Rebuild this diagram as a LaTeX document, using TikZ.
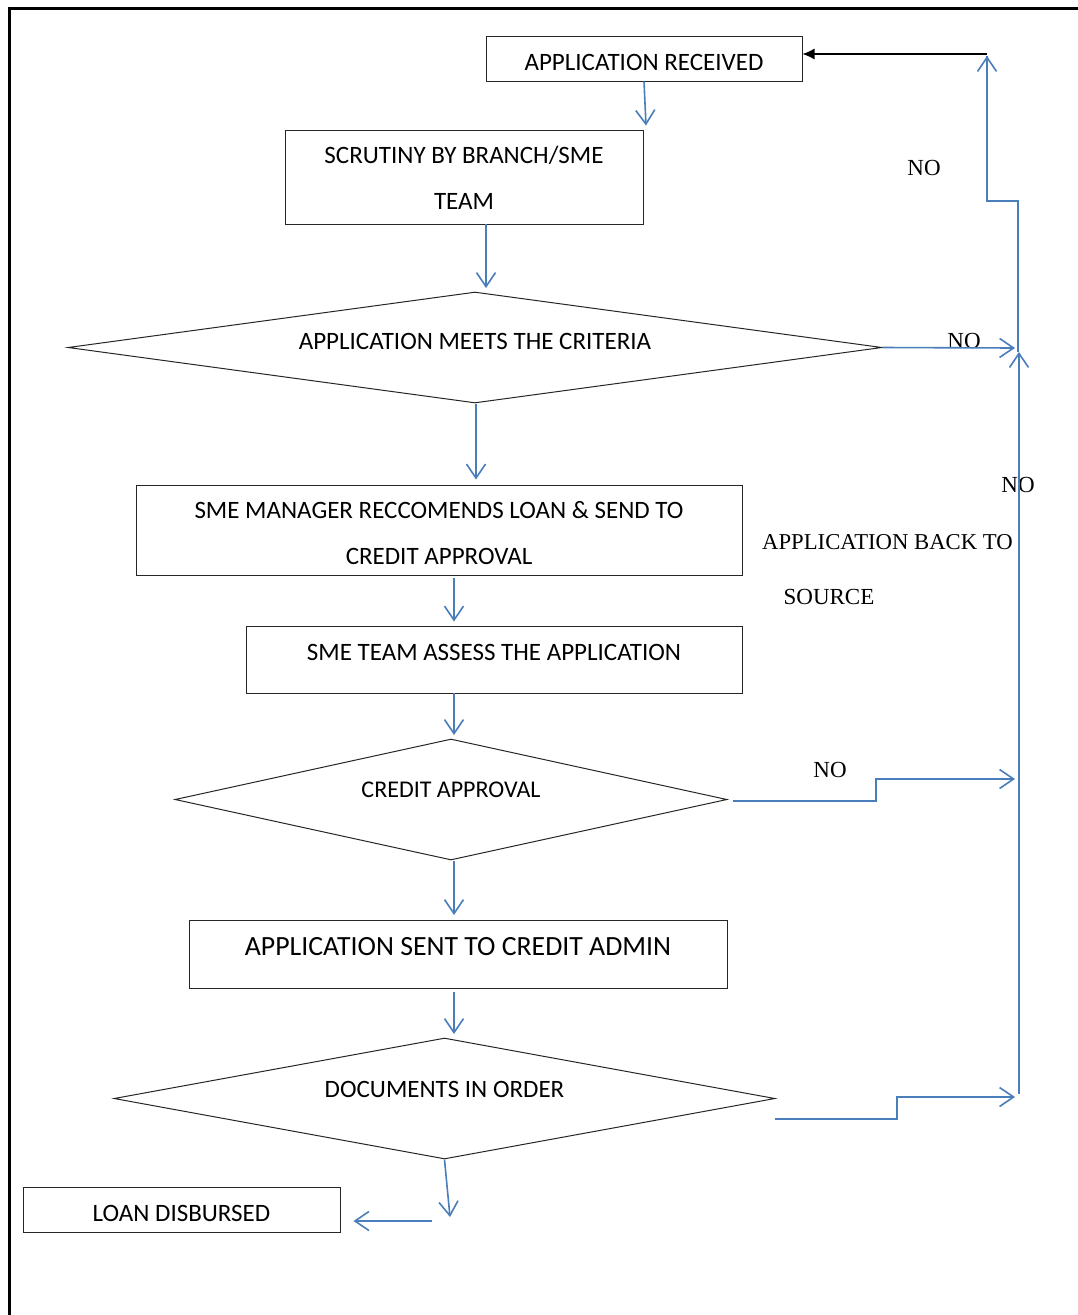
\documentclass[tikz,border=0pt]{standalone}
\usepackage{fontspec}
\setmainfont{Carlito}
\newfontfamily\serifnf{Liberation Serif}
\usetikzlibrary{shapes.geometric,arrows.meta}
\definecolor{wblue}{RGB}{74,126,187}
\tikzset{
  boxnode/.style={draw=black!85,line width=1pt,rectangle,inner sep=0pt},
  dianode/.style={draw=black!85,line width=1pt,diamond,inner sep=0pt,shape aspect=7},
  txt/.style={inner sep=0pt,font=\fontsize{25}{30}\selectfont,align=center},
  serifnote/.style={inner sep=0pt,font=\serifnf\fontsize{23}{28}\selectfont},
  flow/.style={draw=wblue,line width=1.6pt,-{Straight Barb[length=14pt,width=19pt,line width=1.6pt]}},
  flowline/.style={draw=wblue,line width=1.6pt},
}
\begin{document}
\begin{tikzpicture}[x=1pt,y=-1pt]
\useasboundingbox (0,0) rectangle (1078,1315);
% frame
\draw[line width=3pt] (9,1320) -- (9,8) -- (1085,8);

% boxes
\node[boxnode,minimum width=316pt,minimum height=45pt] (recv) at (644,58.5) {};
\node[txt] (recvt) at (644,62) {APPLICATION RECEIVED};
\node[boxnode,minimum width=358pt,minimum height=94pt] (scr) at (464,177) {};
\node[txt] (scrt1) at (464,155) {SCRUTINY BY BRANCH/SME};
\node[txt] (scrt2) at (464,201) {TEAM};
\node[dianode,minimum width=814pt,minimum height=111pt] (d1) at (475,347.5) {};
\node[txt] (d1t) at (475,341) {APPLICATION MEETS THE CRITERIA};
\node[boxnode,minimum width=606pt,minimum height=90pt] (mgr) at (439,530) {};
\node[txt] (mgrt1) at (439,510) {SME MANAGER RECCOMENDS LOAN \& SEND TO};
\node[txt] (mgrt2) at (439,556) {CREDIT APPROVAL};
\node[boxnode,minimum width=496pt,minimum height=67pt] (assess) at (494,659.5) {};
\node[txt] (assesst) at (494,652) {SME TEAM ASSESS THE APPLICATION};
\node[dianode,minimum width=552pt,minimum height=121pt] (d2) at (451,799.5) {};
\node[txt,font=\fontsize{24}{28}\selectfont] (d2t) at (451,790) {CREDIT APPROVAL};
\node[boxnode,minimum width=538pt,minimum height=68pt] (sent) at (458,954) {};
\node[txt,font=\fontsize{27.8}{32}\selectfont] (sentt) at (458,947) {APPLICATION SENT TO CREDIT ADMIN};
\node[dianode,minimum width=661pt,minimum height=121pt] (d3) at (444.5,1098.5) {};
\node[txt] (d3t) at (444.5,1089) {DOCUMENTS IN ORDER};
\node[boxnode,minimum width=317pt,minimum height=45pt] (loan) at (181.5,1209.5) {};
\node[txt] (loant) at (181.5,1213) {LOAN DISBURSED};

% serif labels
\node[serifnote] (no1) at (924,168) {NO};
\node[serifnote] (no2) at (964,341) {NO};
\node[serifnote] (no3) at (1018,485) {NO};
\node[serifnote,anchor=west,font=\serifnf\fontsize{22.7}{28}\selectfont] (back1) at (762,542) {APPLICATION BACK TO};
\node[serifnote] (back2) at (829,597) {SOURCE};
\node[serifnote] (no4) at (830,770) {NO};

% coordinates
\coordinate (c1) at (1018,348);
\coordinate (c2) at (1019,1094);
\coordinate (c3) at (987,54);
\coordinate (c4) at (1015,779);
\coordinate (c5) at (1015,1097);
\coordinate (c6) at (450,1217);
\coordinate (c7) at (432,1221);

% main flow
\draw[flow] (recv.south) -- ([xshift=2pt,yshift=4pt]recv.south |- scr.north);
\draw[flow] (486,224) -- (486,288);
\draw[flow] ([xshift=1pt]d1.south) -- ([xshift=1pt,yshift=5pt]d1.south |- mgr.north);
\draw[flow] (454,578) -- ([yshift=4pt]454,0 |- assess.north);
\draw[flow] (454,693) -- (454,735);
\draw[flow] (d2.south -| 454,0) -- (454,915);
\draw[flow] (454,992) -- (454,1034);
\draw[flow] (d3.south) -- (c6);
\draw[flow] (c7) -- ([xshift=13pt]loan.east |- c7);

% return paths
\draw[flow] (d1.east) -- ([xshift=-3pt]c1);
\draw[flow] (c2) -- (1019,352);
\draw[flowline] (1018,352) -- (1018,201) -- (987,201) -- (987,56);
\draw[flow] (987,201) -- (987,56);
\draw[line width=1.2pt,-{Latex[length=12pt,width=11pt]}] (c3) -- (recv.east |- c3);
\draw[flow] (733,801) -- (876,801) -- (876,779) -- (c4);
\draw[flow] (775,1119) -- (897,1119) -- (897,1097) -- (c5);
\end{tikzpicture}
\end{document}
